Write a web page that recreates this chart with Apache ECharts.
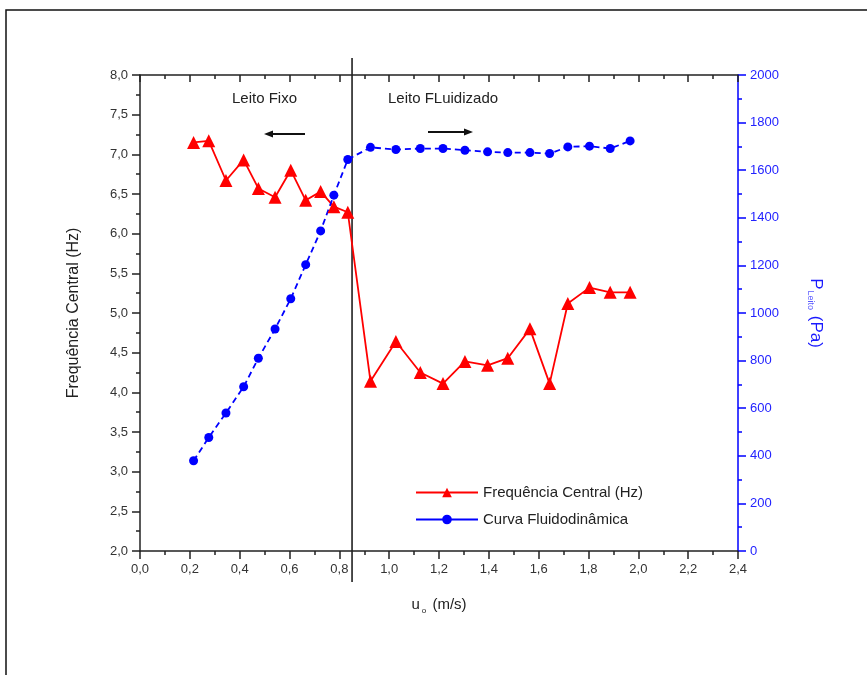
<!DOCTYPE html>
<html>
<head>
<meta charset="utf-8">
<script src="https://cdn.jsdelivr.net/npm/echarts@6/dist/echarts.min.js"></script>
<style>
  html, body { margin: 0; padding: 0; background: #fff; }
  #chart { width: 867px; height: 675px; }
</style>
</head>
<body>
<div id="chart"></div>
<script>
// u0 (m/s) for both series
const velocity = [0.215, 0.276, 0.345, 0.416, 0.475, 0.542, 0.605, 0.665, 0.725, 0.778, 0.834,
  0.925, 1.027, 1.125, 1.216, 1.304, 1.395, 1.476, 1.565, 1.644, 1.717, 1.804, 1.887, 1.967]
// Frequência Central (Hz)
const frequency = [7.15, 7.17, 6.67, 6.93, 6.57, 6.46, 6.80, 6.42, 6.53, 6.34, 6.27,
  4.14, 4.64, 4.25, 4.11, 4.39, 4.34, 4.43, 4.80, 4.11, 5.12, 5.32, 5.26, 5.26]
// Curva fluidodinâmica, P leito (Pa)
const pressure = [379, 477, 580, 690, 810, 933, 1060, 1203, 1345, 1495, 1645,
  1696, 1687, 1691, 1691, 1684, 1677, 1674, 1674, 1670, 1698, 1701, 1691, 1723]
const transitionU = 0.851

const font = 'Liberation Sans, Arial, sans-serif'
const comma = v => v.toFixed(1).replace('.', ',')

const chart = echarts.init(document.getElementById('chart'))

const option = {
  animation: false,
  textStyle: { fontFamily: font },
  grid: { left: 140, right: 129, top: 75, bottom: 124 },
  legend: {
    orient: 'vertical',
    left: 410,
    top: 480,
    itemWidth: 62,
    itemHeight: 12,
    itemGap: 12,
    textStyle: { fontFamily: font, fontSize: 15, color: '#222' },
    data: [
      { name: 'Frequência Central (Hz)' },
      { name: 'Curva Fluidodinâmica', lineStyle: { type: 'solid' } }
    ]
  },
  xAxis: [{
    type: 'value',
    min: 0,
    max: 2.4,
    interval: 0.2,
    position: 'bottom',
    name: 'u{sub|o} (m/s)',
    nameLocation: 'middle',
    nameGap: 44,
    nameTextStyle: {
      fontFamily: font, fontSize: 15, color: '#222',
      rich: { sub: { fontSize: 8, padding: [12, 2, 0, 2], fontFamily: font, color: '#222' } }
    },
    axisLine: { onZero: false, lineStyle: { color: '#222', width: 1.5 } },
    axisTick: { length: 8, lineStyle: { color: '#222', width: 1.5 } },
    minorTick: { show: true, splitNumber: 2, length: 4, lineStyle: { color: '#222', width: 1.5 } },
    axisLabel: { formatter: comma, fontSize: 13, color: '#333', margin: 12 },
    splitLine: { show: false }
  }, {
    type: 'value',
    min: 0,
    max: 2.4,
    interval: 0.2,
    position: 'top',
    axisLine: { onZero: false, lineStyle: { color: '#222', width: 1.5 } },
    axisTick: { inside: true, length: 7, lineStyle: { color: '#222', width: 1.5 } },
    minorTick: { show: true, splitNumber: 2, length: 4, lineStyle: { color: '#222', width: 1.5 } },
    axisLabel: { show: false },
    splitLine: { show: false }
  }],
  yAxis: [{
    type: 'value',
    min: 2,
    max: 8,
    interval: 0.5,
    position: 'left',
    name: 'Frequência Central (Hz)',
    nameLocation: 'middle',
    nameGap: 58,
    nameTextStyle: { fontFamily: font, fontSize: 16, color: '#222' },
    axisLine: { show: true, onZero: false, lineStyle: { color: '#222', width: 1.5 } },
    axisTick: { length: 8, lineStyle: { color: '#222', width: 1.5 } },
    minorTick: { show: true, splitNumber: 2, length: 4, lineStyle: { color: '#222', width: 1.5 } },
    axisLabel: { formatter: comma, fontSize: 13, color: '#333', margin: 12 },
    splitLine: { show: false }
  }, {
    type: 'value',
    min: 0,
    max: 2000,
    interval: 200,
    position: 'right',
    name: '{p|P}{s|Leito}{p| (Pa)}',
    nameLocation: 'middle',
    nameRotate: -90,
    nameGap: 68,
    nameTextStyle: {
      color: '#1a1aff',
      rich: {
        p: { fontSize: 17, color: '#1a1aff', fontFamily: font },
        s: { fontSize: 9, color: '#5a5aff', fontFamily: font, padding: [10, 1, 0, 1] }
      }
    },
    axisLine: { show: true, onZero: false, lineStyle: { color: '#0000ff', width: 1.5 } },
    axisTick: { length: 8, lineStyle: { color: '#0000ff', width: 1.5 } },
    minorTick: { show: true, splitNumber: 2, length: 4, lineStyle: { color: '#0000ff', width: 1.5 } },
    axisLabel: { formatter: v => String(v), fontSize: 13, color: '#2222ff', margin: 12 },
    splitLine: { show: false }
  }],
  series: [{
    name: 'Frequência Central (Hz)',
    type: 'line',
    xAxisIndex: 0,
    yAxisIndex: 0,
    data: velocity.map((u, i) => [u, frequency[i]]),
    symbol: 'triangle',
    symbolSize: 13,
    itemStyle: { color: '#ff0000' },
    lineStyle: { color: '#ff0000', width: 1.8 }
  }, {
    name: 'Curva Fluidodinâmica',
    type: 'line',
    xAxisIndex: 0,
    yAxisIndex: 1,
    data: velocity.map((u, i) => [u, pressure[i]]),
    symbol: 'circle',
    symbolSize: 9,
    itemStyle: { color: '#0000ff' },
    lineStyle: { color: '#0000ff', width: 1.8, type: [6, 4] }
  }]
}

chart.setOption(option)

// vertical line at the transition velocity, plus annotations
const lineX = chart.convertToPixel({ xAxisIndex: 0 }, transitionU)
const topY = chart.convertToPixel({ yAxisIndex: 0 }, 8)
const botY = chart.convertToPixel({ yAxisIndex: 0 }, 2)

function arrow(x1, x2, y) {
  const dir = x2 > x1 ? 1 : -1
  return [{
    type: 'line',
    shape: { x1: x1, y1: y, x2: x2 - dir * 6, y2: y },
    style: { stroke: '#111', lineWidth: 1.8 }
  }, {
    type: 'polygon',
    shape: { points: [[x2, y], [x2 - dir * 9, y - 3.5], [x2 - dir * 9, y + 3.5]] },
    style: { fill: '#111' }
  }]
}

chart.setOption({
  graphic: [
    {
      type: 'rect',
      shape: { x: 6, y: 10, width: 900, height: 700 },
      style: { fill: 'none', stroke: '#111', lineWidth: 1.5 },
      silent: true
    },
    {
      type: 'line',
      shape: { x1: lineX, y1: topY - 17, x2: lineX, y2: botY + 31 },
      style: { stroke: '#111', lineWidth: 1.5 }
    },
    {
      type: 'text',
      left: 232,
      top: 91,
      style: { text: 'Leito Fixo', font: '15px ' + font, fill: '#222' }
    },
    {
      type: 'text',
      left: 388,
      top: 91,
      style: { text: 'Leito FLuidizado', font: '15px ' + font, fill: '#222' }
    },
    ...arrow(305, 264, 134),
    ...arrow(428, 473, 132)
  ]
})
</script>
</body>
</html>
